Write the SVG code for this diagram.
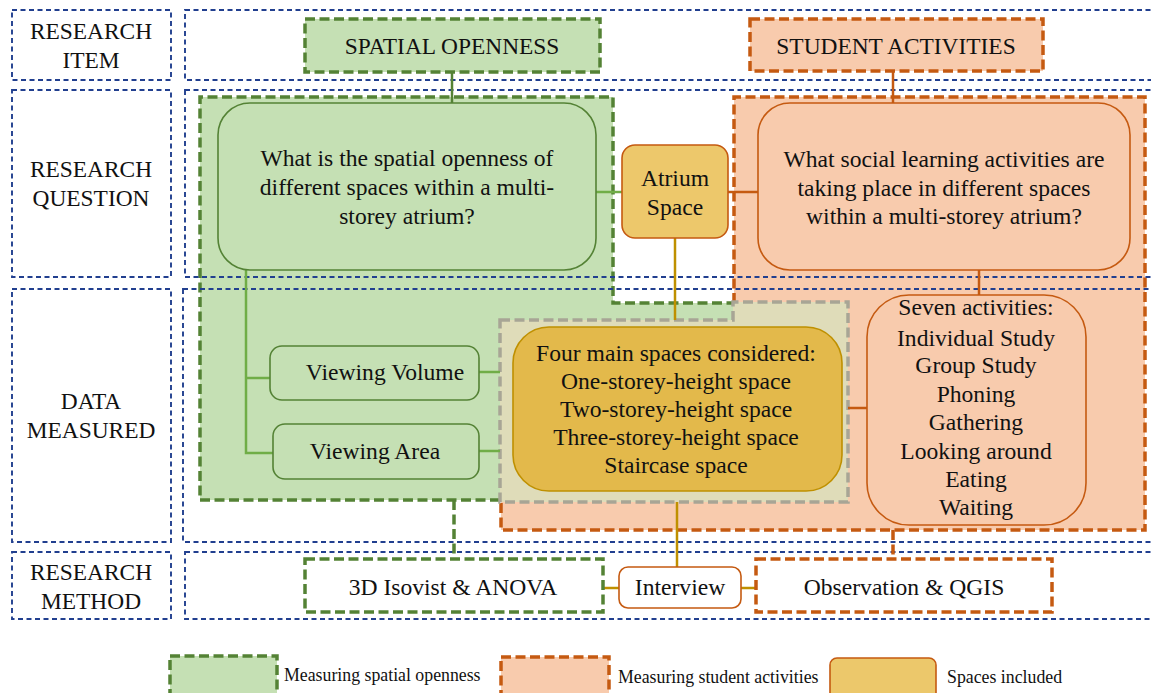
<svg xmlns="http://www.w3.org/2000/svg" width="1151" height="693" viewBox="0 0 1151 693">
<style>
text{font-family:"Liberation Serif","Times New Roman",serif;fill:#111;text-anchor:middle}
.lbl{font-size:23.4px}
.t{font-size:23.6px}
.leg{font-size:17.8px;text-anchor:start}
.blue{fill:none;stroke:#213f8f;stroke-width:1.9;stroke-dasharray:5 3.5}
.gdash{fill:none;stroke:#548235;stroke-width:3.5;stroke-dasharray:10 4.5}
.odash{fill:none;stroke:#c55a11;stroke-width:3.5;stroke-dasharray:10 4.5}
.ydash{fill:none;stroke:#a8a595;stroke-width:3.5;stroke-dasharray:10 4.5}
.gline{stroke:#70ad47;stroke-width:2.5;fill:none}
.oline{stroke:#c55a11;stroke-width:2.5;fill:none}
.yline{stroke:#bf9000;stroke-width:2.5;fill:none}
.gbox{fill:#c5e0b4;stroke:#548235;stroke-width:1.6}
.obox{fill:#f8cbad;stroke:#c55a11;stroke-width:1.6}
</style>
<rect width="1151" height="693" fill="#fff"/>
<g id="region-spatial">
<polygon points="200,97 613,97 613,303 733,303 733,500 200,500" fill="#c5e0b4"/>
<polyline class="gdash" points="500,500 200,500 200,97 613,97 613,303 733,303"/>
</g>
<g id="region-student">
<polygon points="734,97 1145,97 1145,530 501,530 501,470 734,470" fill="#f8cbad"/>
<polyline class="odash" points="734,303 734,97 1145,97 1145,530 501,530 501,502"/>
</g>
<g id="region-spaces">
<polygon points="500,320 733,320 733,302 848,302 848,502 500,502" fill="#dfdcb9"/>
<polygon class="ydash" points="500,320 733,320 733,302 848,302 848,502 500,502"/>
</g>
<g id="rows">
<rect class="blue" x="12" y="10" width="159" height="70"/>
<rect class="blue" x="12" y="90" width="159" height="187"/>
<rect class="blue" x="12" y="289" width="159" height="253"/>
<rect class="blue" x="12" y="552" width="159" height="67"/>
<rect class="blue" x="185" y="10" width="980" height="70"/>
<rect class="blue" x="185" y="90" width="980" height="187"/>
<rect class="blue" x="183" y="289" width="982" height="253"/>
<rect class="blue" x="185" y="552" width="980" height="67"/>
<text class="lbl" x="91" y="39">RESEARCH</text>
<text class="lbl" x="91" y="68">ITEM</text>
<text class="lbl" x="91" y="177">RESEARCH</text>
<text class="lbl" x="91" y="206">QUESTION</text>
<text class="lbl" x="91" y="409">DATA</text>
<text class="lbl" x="91" y="438">MEASURED</text>
<text class="lbl" x="91" y="580">RESEARCH</text>
<text class="lbl" x="91" y="609">METHOD</text>
</g>
<g id="connectors">
<line class="gline" x1="452" y1="72" x2="452" y2="113" style="stroke:#548235"/>
<line class="oline" x1="893" y1="71" x2="893" y2="113"/>
<line class="gline" x1="596" y1="192" x2="622" y2="192"/>
<line class="oline" x1="728" y1="192" x2="758" y2="192"/>
<line class="yline" x1="675" y1="238" x2="675" y2="320"/>
<line class="oline" x1="979" y1="270" x2="979" y2="295"/>
<polyline class="gline" points="246,270 246,453 273,453"/>
<line class="gline" x1="246" y1="378" x2="270" y2="378"/>
<line class="gline" x1="479" y1="372" x2="500" y2="372"/>
<line class="gline" x1="479" y1="451" x2="500" y2="451"/>
<line class="oline" x1="848" y1="408" x2="867" y2="408"/>
<line class="yline" x1="677" y1="502" x2="677" y2="567"/>
<line class="gdash" x1="454" y1="500" x2="454" y2="559"/>
<line class="odash" x1="893" y1="530" x2="893" y2="559"/>
<line class="yline" x1="603" y1="588" x2="619" y2="588"/>
<line class="yline" x1="741" y1="588" x2="756" y2="588"/>
</g>
<g id="item-spatial">
<rect x="305" y="19" width="295" height="53" fill="#c5e0b4"/>
<rect class="gdash" x="305" y="19" width="295" height="53"/>
<text class="lbl" x="452" y="54">SPATIAL OPENNESS</text>
</g>
<g id="item-student">
<rect x="750" y="19" width="293" height="52" fill="#f8cbad"/>
<rect class="odash" x="750" y="19" width="293" height="52"/>
<text class="lbl" x="896" y="54">STUDENT ACTIVITIES</text>
</g>
<g id="q-spatial">
<rect class="gbox" x="218" y="103" width="378" height="167" rx="32"/>
<text class="t" x="407" y="166">What is the spatial openness of</text>
<text class="t" x="407" y="195">different spaces within a multi-</text>
<text class="t" x="407" y="224">storey atrium?</text>
</g>
<g id="atrium">
<rect x="622" y="145" width="106" height="93" rx="13" fill="#edc86b" stroke="#c55a11" stroke-width="1.6"/>
<text class="t" x="675" y="186">Atrium</text>
<text class="t" x="675" y="215">Space</text>
</g>
<g id="q-student">
<rect class="obox" x="758" y="103" width="372" height="167" rx="32"/>
<text class="t" x="944" y="167">What social learning activities are</text>
<text class="t" x="944" y="196">taking place in different spaces</text>
<text class="t" x="944" y="224">within a multi-storey atrium?</text>
</g>
<g id="viewing-volume">
<rect class="gbox" x="270" y="346" width="209" height="54" rx="12"/>
<text class="t" x="385" y="380">Viewing Volume</text>
</g>
<g id="viewing-area">
<rect class="gbox" x="273" y="424" width="206" height="55" rx="12"/>
<text class="t" x="375" y="459">Viewing Area</text>
</g>
<g id="four-spaces">
<rect x="513" y="327" width="329" height="164" rx="36" fill="#e3b94b" stroke="#bf9000" stroke-width="1.6"/>
<text class="t" x="676" y="361">Four main spaces considered:</text>
<text class="t" x="676" y="389">One-storey-height space</text>
<text class="t" x="676" y="417">Two-storey-height space</text>
<text class="t" x="676" y="445">Three-storey-height space</text>
<text class="t" x="676" y="473">Staircase space</text>
</g>
<g id="seven-activities">
<rect class="obox" x="867" y="295" width="219" height="230" rx="42"/>
<text class="t" x="976" y="315">Seven activities:</text>
<text class="t" x="976" y="346">Individual Study</text>
<text class="t" x="976" y="373">Group Study</text>
<text class="t" x="976" y="402">Phoning</text>
<text class="t" x="976" y="430">Gathering</text>
<text class="t" x="976" y="459">Looking around</text>
<text class="t" x="976" y="487">Eating</text>
<text class="t" x="976" y="515">Waiting</text>
</g>
<g id="isovist">
<rect x="305" y="559" width="298" height="53" fill="#fff"/>
<rect class="gdash" x="305" y="559" width="298" height="53"/>
<text class="t" x="453" y="595">3D Isovist &amp; ANOVA</text>
</g>
<g id="interview">
<rect x="619" y="567" width="122" height="41" rx="9" fill="#fff" stroke="#c55a11" stroke-width="1.6"/>
<text class="t" x="680" y="595">Interview</text>
</g>
<g id="observation">
<rect x="756" y="559" width="296" height="53" fill="#fff"/>
<rect class="odash" x="756" y="559" width="296" height="53"/>
<text class="t" x="904" y="595">Observation &amp; QGIS</text>
</g>
<g id="legend">
<rect x="170" y="656" width="107" height="45" fill="#c5e0b4"/>
<rect class="gdash" x="170" y="656" width="107" height="45"/>
<text class="leg" x="284" y="681">Measuring spatial openness</text>
<rect x="501" y="657" width="108" height="44" fill="#f8cbad"/>
<rect class="odash" x="501" y="657" width="108" height="44"/>
<text class="leg" x="618" y="683">Measuring student activities</text>
<rect x="830" y="658" width="106" height="45" rx="7" fill="#ecc86b" stroke="#c55a11" stroke-width="1.6"/>
<text class="leg" x="947" y="683">Spaces included</text>
</g>
</svg>
